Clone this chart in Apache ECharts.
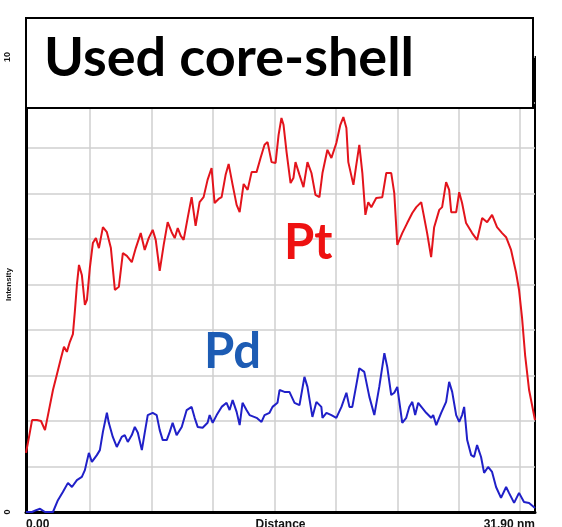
<!DOCTYPE html>
<html>
<head>
<meta charset="utf-8">
<script src="https://cdn.jsdelivr.net/npm/echarts@6/dist/echarts.min.js"></script>
<style>
  html, body { margin: 0; padding: 0; background: #fff; }
  #chart { width: 562px; height: 527px; }
</style>
</head>
<body>
<div id="chart"></div>
<script>
// EDS line scan across a used core-shell particle (distance in nm, intensity in counts x 10^n)
const ptDistance = [0, 0.19, 0.38, 0.69, 0.94, 1.19, 1.44, 1.69, 1.94, 2.19, 2.38, 2.56, 2.75, 2.94, 3.06, 3.19, 3.32, 3.50, 3.69, 3.82,
  4.00, 4.19, 4.38, 4.57, 4.82, 5.07, 5.32, 5.57, 5.82, 6.07, 6.32, 6.63, 6.88, 7.19, 7.44, 7.69, 7.94, 8.13, 8.38, 8.63,
  8.88, 9.13, 9.32, 9.51, 9.70, 9.88, 10.13, 10.38, 10.63, 10.88, 11.13, 11.38, 11.63, 11.82, 12.07, 12.26, 12.51, 12.70, 12.95, 13.20,
  13.39, 13.64, 13.89, 14.14, 14.45, 14.70, 14.95, 15.14, 15.39, 15.64, 15.83, 16.01, 16.14, 16.33, 16.58, 16.76, 16.89, 17.14, 17.39, 17.64,
  17.89, 18.14, 18.39, 18.58, 18.89, 19.14, 19.45, 19.70, 19.89, 20.08, 20.20, 20.52, 20.70, 20.89, 21.08, 21.27, 21.45, 21.64, 21.95, 22.33,
  22.58, 22.89, 23.08, 23.27, 23.58, 23.89, 24.21, 24.46, 24.77, 24.89, 25.14, 25.39, 25.58, 25.90, 26.08, 26.33, 26.52, 26.65, 26.96, 27.15,
  27.33, 27.58, 27.96, 28.27, 28.59, 28.90, 29.21, 29.52, 29.84, 30.09, 30.40, 30.71, 30.90, 31.09, 31.28, 31.53, 31.90];
const ptIntensity = [1.30, 1.65, 2.02, 2.02, 2.00, 1.80, 2.24, 2.68, 3.03, 3.38, 3.63, 3.52, 3.74, 3.91, 4.40, 4.99, 5.43, 5.21, 4.55, 4.66,
  5.36, 5.91, 6.02, 5.80, 6.26, 6.15, 5.80, 4.88, 4.95, 5.69, 5.63, 5.49, 5.80, 6.13, 5.76, 6.02, 6.20, 5.98, 5.30, 5.87,
  6.37, 6.15, 6.02, 6.24, 6.07, 5.98, 6.46, 6.92, 6.29, 6.81, 6.92, 7.30, 7.56, 6.79, 6.88, 6.92, 7.41, 7.65, 7.19, 6.75,
  6.59, 7.21, 7.08, 7.47, 7.47, 7.78, 8.07, 8.13, 7.69, 7.67, 8.29, 8.66, 8.51, 7.91, 7.23, 7.34, 7.69, 7.41, 7.14, 7.69,
  7.45, 6.97, 6.92, 7.45, 7.96, 7.78, 8.11, 8.51, 8.68, 8.44, 7.69, 7.19, 7.63, 8.07, 7.45, 6.53, 6.81, 6.70, 6.90, 6.92,
  7.45, 7.45, 7.01, 5.87, 6.13, 6.35, 6.57, 6.70, 6.81, 6.59, 6.13, 5.60, 6.26, 6.64, 6.70, 7.25, 7.08, 6.59, 6.59, 7.03,
  6.79, 6.35, 6.13, 5.98, 6.46, 6.37, 6.53, 6.26, 6.13, 6.04, 5.76, 5.27, 4.88, 4.26, 3.45, 2.68, 2.02];

const pdDistance = [0, 0.38, 0.63, 0.88, 1.19, 1.69, 2.00, 2.31, 2.63, 2.88, 3.19, 3.50, 3.69, 3.94, 4.13, 4.44, 4.63, 4.82, 5.07, 5.19,
  5.44, 5.69, 6.00, 6.19, 6.38, 6.63, 6.82, 7.01, 7.26, 7.44, 7.63, 7.94, 8.19, 8.38, 8.57, 8.82, 9.01, 9.19, 9.44, 9.76,
  10.07, 10.38, 10.57, 10.76, 11.07, 11.38, 11.51, 11.70, 11.95, 12.26, 12.57, 12.76, 12.95, 13.20, 13.39, 13.57, 13.82, 14.01, 14.45, 14.76,
  14.95, 15.26, 15.45, 15.76, 15.89, 16.20, 16.51, 16.83, 17.14, 17.45, 17.64, 17.95, 18.20, 18.51, 18.58, 18.83, 19.14, 19.45, 19.77, 20.08,
  20.27, 20.45, 20.70, 20.89, 21.20, 21.52, 21.83, 22.14, 22.46, 22.64, 22.89, 23.08, 23.27, 23.58, 23.83, 24.02, 24.21, 24.39, 24.58, 24.83,
  25.08, 25.39, 25.52, 25.71, 26.02, 26.33, 26.52, 26.71, 26.96, 27.15, 27.33, 27.46, 27.65, 27.90, 28.08, 28.27, 28.52, 28.71, 28.96, 29.21,
  29.46, 29.77, 30.09, 30.27, 30.59, 30.90, 31.21, 31.53, 31.90];
const pdIntensity = [0, 0, 0.04, 0.07, 0, 0, 0.26, 0.44, 0.64, 0.55, 0.70, 0.77, 0.92, 1.30, 1.10, 1.25, 1.36, 1.76, 2.18, 1.96,
  1.65, 1.43, 1.65, 1.69, 1.54, 1.69, 1.87, 1.74, 1.36, 1.74, 2.13, 2.18, 2.13, 1.80, 1.58, 1.58, 1.76, 1.96, 1.69, 1.87,
  2.24, 2.31, 2.07, 1.87, 1.85, 1.96, 2.13, 1.96, 2.13, 2.31, 2.40, 2.24, 2.46, 2.20, 1.91, 2.40, 2.24, 2.13, 2.07, 1.98,
  2.13, 2.18, 2.31, 2.40, 2.68, 2.64, 2.64, 2.40, 2.35, 2.97, 2.75, 2.09, 2.42, 2.31, 2.07, 2.18, 2.13, 2.07, 2.31, 2.62,
  2.31, 2.31, 2.79, 3.16, 3.08, 2.53, 2.13, 2.75, 3.49, 3.19, 2.57, 2.62, 2.75, 1.96, 2.07, 2.31, 2.42, 2.13, 2.40, 2.29,
  2.18, 2.07, 2.13, 1.91, 2.18, 2.42, 2.86, 2.64, 2.13, 1.98, 2.13, 2.31, 1.58, 1.25, 1.21, 1.47, 1.21, 0.86, 0.99, 0.88,
  0.55, 0.31, 0.55, 0.42, 0.20, 0.42, 0.22, 0.20, 0.09];

// vertical grid divisions used by the scan software (nm)
const gridDistance = [4.00, 7.88, 11.70, 15.57, 19.39, 23.27, 27.15, 30.96];
// axis end labels
const xEndValues = [0, 31.9];
const xEndLabels = ['0.00', '31.90 nm'];
const yEndValues = [0, 10];

const pairs = (xs, ys) => xs.map((x, i) => [x, ys[i]]);

const chart = echarts.init(document.getElementById('chart'), null, { renderer: 'canvas' });

chart.setOption({
  backgroundColor: '#ffffff',
  animation: false,
  grid: {
    left: 26, right: 27, top: 57, bottom: 15,
    containLabel: false, outerBoundsMode: 'none',
    show: true, borderColor: '#000', borderWidth: 2, backgroundColor: 'transparent'
  },
  xAxis: {
    type: 'value', min: 0, max: 31.9,
    name: 'Distance', nameLocation: 'middle', nameGap: 7, nameMoveOverlap: false,
    nameTextStyle: { fontFamily: 'Liberation Sans', fontWeight: 'bold', fontSize: 12, color: '#111', verticalAlign: 'top' },
    axisLine: { show: true, lineStyle: { color: '#000', width: 3 } },
    axisTick: { show: false, customValues: gridDistance },
    splitLine: { show: true, lineStyle: { color: '#cfcfcf', width: 1.5 } },
    axisLabel: {
      customValues: xEndValues,
      formatter: v => xEndLabels[xEndValues.indexOf(v)] ?? '',
      alignMinLabel: 'left', alignMaxLabel: 'right',
      margin: 7, fontFamily: 'Liberation Sans', fontWeight: 'bold', fontSize: 12, color: '#111'
    }
  },
  yAxis: {
    type: 'value', min: 0, max: 10, interval: 1,
    name: 'Intensity', nameLocation: 'middle', nameGap: 13, nameMoveOverlap: false,
    nameTextStyle: { fontFamily: 'Liberation Sans', fontWeight: 'bold', fontSize: 8, color: '#111' },
    axisLine: { show: true, lineStyle: { color: '#000', width: 3 } },
    axisTick: { show: false },
    splitLine: { show: true, lineStyle: { color: '#cfcfcf', width: 1.5 } },
    axisLabel: {
      customValues: yEndValues,
      rotate: 90, margin: 14,
      fontFamily: 'Liberation Sans', fontWeight: 'bold', fontSize: 9, color: '#111'
    }
  },
  series: [
    {
      name: 'Pt', type: 'line', data: pairs(ptDistance, ptIntensity),
      showSymbol: false, lineStyle: { color: '#e3141c', width: 2 }, z: 3
    },
    {
      name: 'Pd', type: 'line', data: pairs(pdDistance, pdIntensity),
      showSymbol: false, lineStyle: { color: '#2020c8', width: 2 }, z: 3
    }
  ],
  graphic: [
    {
      type: 'rect', left: 25, top: 17, z: 100,
      shape: { width: 507, height: 90 },
      style: { fill: '#fff', stroke: '#000', lineWidth: 2 }
    },
    {
      type: 'text', left: 44, top: 32, z: 101,
      style: { text: 'Used core-shell', fill: '#000', font: 'bold 54px Lato' }
    },
    {
      type: 'text', left: 284, top: 219, z: 50,
      style: { text: 'Pt', fill: '#ee1111', font: 'bold 49px Lato' }
    },
    {
      type: 'text', left: 204, top: 328, z: 50,
      style: { text: 'Pd', fill: '#1d5cb4', font: 'bold 49px Lato' }
    }
  ]
});
</script>
</body>
</html>
